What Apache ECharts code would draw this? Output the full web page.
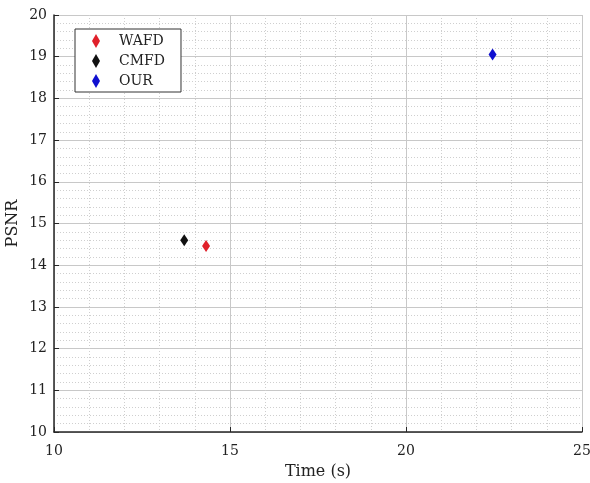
<!DOCTYPE html>
<html>
<head>
<meta charset="utf-8">
<script src="https://cdn.jsdelivr.net/npm/echarts@6/dist/echarts.min.js"></script>
<style>
  html, body { margin: 0; padding: 0; background: #fff; }
  #chart { width: 590px; height: 483px; }
</style>
</head>
<body>
<div id="chart"></div>
<script>
var methods = ['WAFD', 'CMFD', 'OUR'];
var colors = ['#e0202a', '#111111', '#1010d0'];
var timeVals = [14.32, 13.70, 22.46];
var psnrVals = [14.46, 14.60, 19.05];

var font = 'DejaVu Serif, Liberation Serif, serif';

var series = methods.map(function (name, i) {
  return {
    name: name,
    type: 'scatter',
    symbol: 'diamond',
    symbolSize: [8, 12],
    itemStyle: { color: colors[i], opacity: 1 },
    data: [[timeVals[i], psnrVals[i]]]
  };
});

var option = {
  backgroundColor: '#fff',
  animation: false,
  textStyle: { fontFamily: font },
  grid: { left: 54, right: 8, top: 15, bottom: 51, outerBoundsMode: 'none', containLabel: false },
  legend: {
    orient: 'vertical',
    left: 75,
    top: 29,
    padding: [5, 16, 4, 17],
    itemGap: 6,
    itemWidth: 8,
    itemHeight: 14,
    backgroundColor: '#fff',
    borderColor: '#333',
    borderWidth: 1,
    textStyle: { fontFamily: font, fontSize: 14, color: '#222', padding: [0, 0, 0, 14] },
    data: methods.map(function (m) { return { name: m, itemStyle: { opacity: 1 } }; })
  },
  xAxis: {
    type: 'value',
    min: 10, max: 25, interval: 5,
    name: 'Time (s)',
    nameLocation: 'middle',
    nameGap: 32,
    nameMoveOverlap: false,
    nameTextStyle: { fontFamily: font, fontSize: 16, color: '#222' },
    axisLine: { lineStyle: { color: '#262626', width: 1.5 } },
    axisTick: { inside: true, length: 5, lineStyle: { color: '#262626' } },
    axisLabel: { fontFamily: font, fontSize: 14, color: '#222', margin: 12 },
    splitLine: { lineStyle: { color: '#c8c8c8', width: 1 } },
    minorTick: { show: false, splitNumber: 5 },
    minorSplitLine: { show: true, lineStyle: { color: '#cfcfcf', type: [1, 2], width: 1 } }
  },
  yAxis: {
    type: 'value',
    min: 10, max: 20, interval: 1,
    name: 'PSNR',
    nameLocation: 'middle',
    nameGap: 33,
    nameMoveOverlap: false,
    nameTextStyle: { fontFamily: font, fontSize: 16, color: '#222' },
    axisLine: { show: true, lineStyle: { color: '#262626', width: 1.5 } },
    axisTick: { show: true, inside: true, length: 5, lineStyle: { color: '#262626' } },
    axisLabel: { fontFamily: font, fontSize: 14, color: '#222', margin: 7 },
    splitLine: { lineStyle: { color: '#c8c8c8', width: 1 } },
    minorTick: { show: false, splitNumber: 5 },
    minorSplitLine: { show: true, lineStyle: { color: '#cfcfcf', type: [1, 2], width: 1 } }
  },
  series: series
};

var chart = echarts.init(document.getElementById('chart'));
chart.setOption(option);
</script>
</body>
</html>
